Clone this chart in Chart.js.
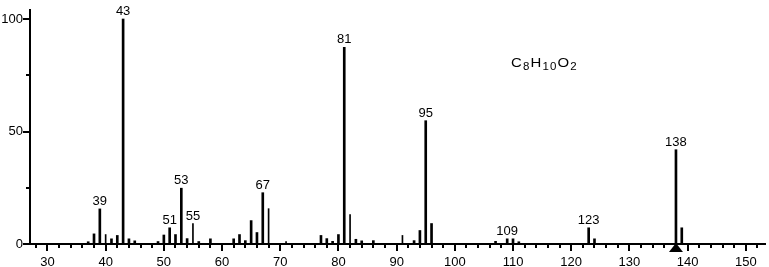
<!DOCTYPE html>
<html><head><meta charset="utf-8">
<script src="https://cdn.jsdelivr.net/npm/chart.js@4.4.1/dist/chart.umd.min.js"></script>
<style>
html,body{margin:0;padding:0;background:#fff;}
#wrap{position:relative;width:769px;height:267px;background:#fff;}
#formula{position:absolute;left:511px;top:55px;font:13px "Liberation Sans",Arial,sans-serif;color:#000;letter-spacing:1px;white-space:nowrap;transform:scaleX(1.15);transform-origin:0 0;line-height:16px;}
#formula sub{font-size:10px;vertical-align:-3px;line-height:0;}
</style></head><body>
<div id="wrap"><canvas id="c" width="769" height="267"></canvas><div id="formula">C<sub>8</sub>H<sub>10</sub>O<sub>2</sub></div></div>
<script>
// m/z values and relative intensities
const masses      = [37, 38, 39,  40, 41, 42, 43,  44, 45, 49, 50, 51, 52, 53,  54, 55, 56, 58, 62, 63, 64, 65,  66, 67,  68,  71, 77, 78, 79, 80, 81,  82,  83, 84, 86, 91, 93, 94, 95,  96, 107, 109, 110, 111, 123, 124, 138,  139];
const intensities = [1.0,4.5,15.6,4.2,2.3,3.8,100, 2.3,1.4,1.1,4.0,7.2,4.2,24.8,2.4,9.1,1.1,2.3,2.3,4.2,1.5,10.4,5.1,22.8,15.7,1.1,3.8,2.4,1.2,4.2,87.4,13.1,2.1,1.4,1.5,3.8,1.5,6.0,54.8,9.1,1.2, 2.3, 2.3, 1.0, 7.2, 2.3, 41.9, 7.2];
const thinMasses    = [40, 55, 68, 71, 82, 91];
const labeledMasses = [39, 43, 51, 53, 55, 67, 81, 95, 109, 123, 138];
const molecularIon  = 138;
const xTickLabels   = [30, 40, 50, 60, 70, 80, 90, 100, 110, 120, 130, 140, 150];
const yTickLabels   = [0, 50, 100];

const FONT = {family: '"Liberation Sans", Arial, sans-serif', size: 13};

const thickData = [], thinData = [];
masses.forEach((m, i) => {
  (thinMasses.includes(m) ? thinData : thickData).push({x: m, y: intensities[i]});
});

const decor = {
  id: 'decor',
  afterDraw(chart) {
    const ctx = chart.ctx, xs = chart.scales.x, ys = chart.scales.y, a = chart.chartArea;
    ctx.save();
    ctx.strokeStyle = '#000'; ctx.fillStyle = '#000'; ctx.lineWidth = 2;
    // x tick marks
    for (let v = 28; v <= 152; v += 2) {
      const px = Math.round(xs.getPixelForValue(v));
      const len = (v % 10 === 0) ? 7 : 4;
      ctx.beginPath(); ctx.moveTo(px, a.bottom); ctx.lineTo(px, a.bottom + len); ctx.stroke();
    }
    // y tick marks
    for (let v = 0; v <= 100; v += 25) {
      const py = Math.round(ys.getPixelForValue(v));
      const len = (v % 50 === 0) ? 7 : 4;
      ctx.beginPath(); ctx.moveTo(a.left, py); ctx.lineTo(a.left - len, py); ctx.stroke();
    }
    // peak labels
    ctx.font = FONT.size + 'px ' + FONT.family;
    ctx.textAlign = 'center'; ctx.textBaseline = 'alphabetic';
    labeledMasses.forEach(m => {
      const i = masses.indexOf(m);
      const px = xs.getPixelForValue(m), py = ys.getPixelForValue(intensities[i]);
      ctx.fillText(String(m), px, py - 4);
    });
    // molecular ion marker
    const tx = xs.getPixelForValue(molecularIon);
    ctx.beginPath();
    ctx.moveTo(tx - 7, a.bottom + 8); ctx.lineTo(tx + 7, a.bottom + 8); ctx.lineTo(tx, a.bottom - 1);
    ctx.closePath(); ctx.fill();
    ctx.restore();
  }
};

new Chart(document.getElementById('c'), {
  type: 'bar',
  data: {
    datasets: [
      {data: thickData, backgroundColor: '#000', barThickness: 2, grouped: false},
      {data: thinData, backgroundColor: '#000', barThickness: 1, grouped: false}
    ]
  },
  options: {
    responsive: false, animation: false,
    layout: {padding: {top: 10, right: 4, left: 0, bottom: 0}},
    plugins: {legend: {display: false}, tooltip: {enabled: false}},
    scales: {
      x: {
        type: 'linear', min: 27, max: 153.3, offset: false,
        grid: {display: false, drawTicks: false},
        border: {display: true, color: '#000', width: 2},
        ticks: {stepSize: 2, autoSkip: false, maxRotation: 0, includeBounds: false, color: '#000', font: FONT, padding: 11,
          callback: v => xTickLabels.includes(v) ? String(v) : ''},
        afterFit(s) { s.height = 23; s.paddingLeft = 0; s.paddingRight = 0; }
      },
      y: {
        min: 0, max: 104,
        grid: {display: false, drawTicks: false},
        border: {display: true, color: '#000', width: 2},
        ticks: {stepSize: 25, includeBounds: false, color: '#000', font: FONT, padding: 7,
          callback: v => yTickLabels.includes(v) ? String(v) : ''},
        afterFit(s) { s.width = 30; s.paddingTop = 0; s.paddingBottom = 0; }
      }
    }
  },
  plugins: [decor]
});
</script>
</body></html>
